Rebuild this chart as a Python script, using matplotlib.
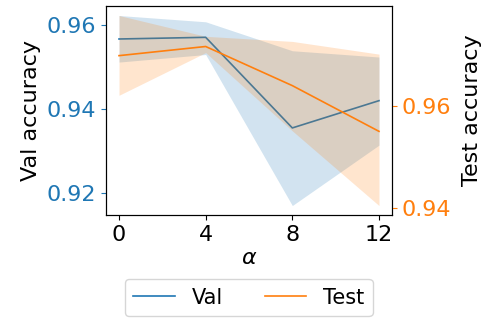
import matplotlib
matplotlib.use("Agg")
import matplotlib.pyplot as plt
import numpy as np

alphas = [0, 4, 8, 12]

val_mean = [0.9566, 0.9570, 0.9354, 0.9419]
val_upper = [0.9622, 0.9607, 0.9538, 0.9523]
val_lower = [0.9511, 0.9529, 0.9169, 0.9313]

test_mean = [0.9700, 0.9718, 0.9641, 0.9551]
test_upper = [0.9779, 0.9738, 0.9728, 0.9703]
test_lower = [0.9622, 0.9706, 0.9552, 0.9405]

plt.rcParams["font.size"] = 16

fig, ax1 = plt.subplots(figsize=(4.85, 3.2), dpi=100)
fig.subplots_adjust(left=0.2186, right=0.8082, top=0.98125, bottom=0.328)

l1, = ax1.plot(alphas, val_mean, color="C0", lw=1.2, label="Val")
ax1.fill_between(alphas, val_lower, val_upper, color="C0", alpha=0.2, lw=0)
ax1.set_ylabel("Val accuracy")
ax1.set_xlabel(r"$\alpha$", labelpad=2)
ax1.set_xticks(alphas)
ax1.tick_params(axis="y", colors="C0")
ax1.set_yticks([0.92, 0.94, 0.96])

ax2 = ax1.twinx()
l2, = ax2.plot(alphas, test_mean, color="C1", lw=1.2, label="Test")
ax2.fill_between(alphas, test_lower, test_upper, color="C1", alpha=0.2, lw=0)
ax2.set_ylabel("Test accuracy", labelpad=8)
ax2.tick_params(axis="y", colors="C1")
ax2.set_yticks([0.94, 0.96])

fig.legend(handles=[l1, l2], loc="upper center", bbox_to_anchor=(0.513, 0.16),
           ncol=2, fontsize=15)

fig.savefig("out.png", dpi=100)
